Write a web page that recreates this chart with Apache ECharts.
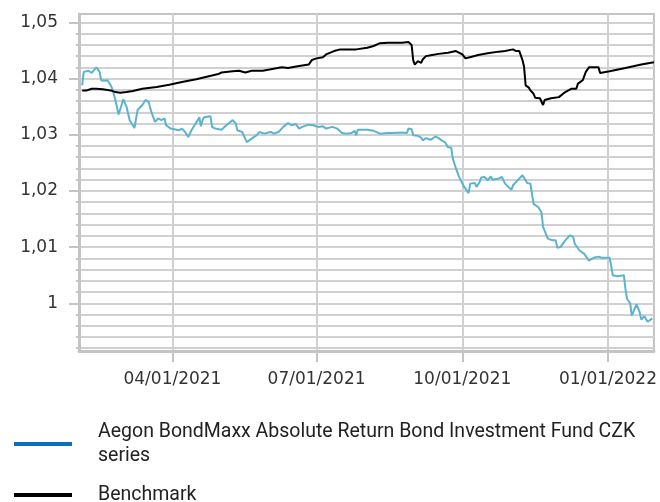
<!DOCTYPE html>
<html><head><meta charset="utf-8">
<script src="https://cdn.jsdelivr.net/npm/echarts@6/dist/echarts.min.js"></script>
<style>html,body{margin:0;padding:0;background:#fff}#c{width:660px;height:502px}</style>
</head><body><div id="c"></div>
<script>
const fundName = 'Aegon BondMaxx Absolute Return Bond Investment Fund CZK series';
const benchName = 'Benchmark';
const fundDates = ['2021-02-03','2021-02-04','2021-02-07','2021-02-09','2021-02-12','2021-02-14','2021-02-15','2021-02-17','2021-02-19','2021-02-21','2021-02-22','2021-02-24','2021-02-26','2021-03-01','2021-03-03','2021-03-05','2021-03-08','2021-03-09','2021-03-10','2021-03-13','2021-03-15','2021-03-17','2021-03-19','2021-03-21','2021-03-23','2021-03-25','2021-03-27','2021-03-28','2021-03-31','2021-04-05','2021-04-07','2021-04-09','2021-04-11','2021-04-13','2021-04-17','2021-04-18','2021-04-19','2021-04-20','2021-04-21','2021-04-25','2021-04-26','2021-04-28','2021-05-02','2021-05-05','2021-05-09','2021-05-11','2021-05-12','2021-05-15','2021-05-18','2021-05-21','2021-05-24','2021-05-26','2021-05-29','2021-06-02','2021-06-04','2021-06-07','2021-06-10','2021-06-13','2021-06-15','2021-06-18','2021-06-20','2021-06-22','2021-06-26','2021-06-29','2021-07-02','2021-07-05','2021-07-07','2021-07-11','2021-07-14','2021-07-17','2021-07-20','2021-07-23','2021-07-25','2021-07-26','2021-07-27','2021-08-02','2021-08-06','2021-08-10','2021-08-15','2021-08-18','2021-08-24','2021-08-27','2021-08-28','2021-08-30','2021-08-31','2021-09-03','2021-09-05','2021-09-06','2021-09-08','2021-09-11','2021-09-14','2021-09-16','2021-09-18','2021-09-20','2021-09-22','2021-09-24','2021-09-25','2021-09-27','2021-09-29','2021-10-02','2021-10-05','2021-10-06','2021-10-09','2021-10-10','2021-10-12','2021-10-13','2021-10-15','2021-10-17','2021-10-19','2021-10-20','2021-10-24','2021-10-26','2021-10-28','2021-11-01','2021-11-02','2021-11-04','2021-11-08','2021-11-09','2021-11-11','2021-11-13','2021-11-14','2021-11-15','2021-11-18','2021-11-20','2021-11-21','2021-11-22','2021-11-24','2021-11-27','2021-11-29','2021-11-30','2021-12-02','2021-12-05','2021-12-08','2021-12-10','2021-12-11','2021-12-14','2021-12-17','2021-12-20','2021-12-23','2021-12-26','2021-12-28','2022-01-02','2022-01-03','2022-01-04','2022-01-07','2022-01-11','2022-01-12','2022-01-13','2022-01-15','2022-01-16','2022-01-17','2022-01-19','2022-01-21','2022-01-22','2022-01-24','2022-01-26','2022-01-29'];
const fundValues = [1.0388,1.0412,1.0414,1.0410,1.0420,1.0412,1.0397,1.0396,1.0397,1.0388,1.0382,1.0362,1.0336,1.0363,1.0350,1.0326,1.0312,1.0315,1.0344,1.0353,1.0362,1.0358,1.0338,1.0323,1.0329,1.0326,1.0329,1.0317,1.0311,1.0308,1.0311,1.0305,1.0296,1.0308,1.0326,1.0331,1.0315,1.0326,1.0331,1.0333,1.0314,1.0311,1.0309,1.0317,1.0326,1.0320,1.0308,1.0305,1.0287,1.0293,1.0299,1.0305,1.0302,1.0305,1.0302,1.0305,1.0314,1.0321,1.0317,1.0319,1.0311,1.0314,1.0318,1.0317,1.0314,1.0315,1.0311,1.0314,1.0311,1.0303,1.0302,1.0303,1.0307,1.0299,1.0309,1.0309,1.0307,1.0302,1.0303,1.0303,1.0304,1.0303,1.0311,1.0310,1.0299,1.0298,1.0295,1.0290,1.0294,1.0291,1.0297,1.0294,1.0290,1.0287,1.0278,1.0277,1.0258,1.0240,1.0225,1.0208,1.0196,1.0213,1.0214,1.0207,1.0216,1.0224,1.0225,1.0219,1.0226,1.0220,1.0222,1.0225,1.0213,1.0202,1.0210,1.0216,1.0228,1.0228,1.0214,1.0213,1.0195,1.0177,1.0171,1.0162,1.0136,1.0133,1.0115,1.0112,1.0112,1.0099,1.0100,1.0112,1.0121,1.0118,1.0106,1.0094,1.0088,1.0076,1.0081,1.0083,1.0081,1.0081,1.0067,1.0050,1.0048,1.0050,1.0026,1.0008,1.0000,0.9978,0.9984,0.9998,0.9984,0.9971,0.9977,0.9967,0.9973];
const benchDates = ['2021-02-03','2021-02-06','2021-02-09','2021-02-12','2021-02-16','2021-02-21','2021-02-24','2021-02-27','2021-03-03','2021-03-07','2021-03-13','2021-03-22','2021-03-30','2021-04-07','2021-04-16','2021-04-22','2021-04-30','2021-05-02','2021-05-09','2021-05-13','2021-05-17','2021-05-21','2021-05-28','2021-06-03','2021-06-09','2021-06-13','2021-06-19','2021-06-26','2021-06-28','2021-07-01','2021-07-05','2021-07-07','2021-07-12','2021-07-16','2021-07-20','2021-07-26','2021-08-02','2021-08-06','2021-08-10','2021-08-15','2021-08-20','2021-08-24','2021-08-28','2021-08-30','2021-08-31','2021-09-01','2021-09-03','2021-09-05','2021-09-06','2021-09-08','2021-09-12','2021-09-16','2021-09-22','2021-09-27','2021-10-01','2021-10-03','2021-10-07','2021-10-11','2021-10-17','2021-10-24','2021-10-28','2021-11-02','2021-11-04','2021-11-06','2021-11-08','2021-11-09','2021-11-10','2021-11-12','2021-11-13','2021-11-15','2021-11-16','2021-11-19','2021-11-21','2021-11-22','2021-11-26','2021-12-01','2021-12-05','2021-12-09','2021-12-12','2021-12-13','2021-12-16','2021-12-18','2021-12-20','2021-12-22','2021-12-26','2021-12-27','2022-01-02','2022-01-12','2022-01-22','2022-01-30'];
const benchValues = [1.0379,1.0379,1.0382,1.0382,1.0381,1.0379,1.0376,1.0375,1.0376,1.0378,1.0382,1.0385,1.0389,1.0394,1.0399,1.0403,1.0408,1.0411,1.0413,1.0414,1.0411,1.0414,1.0414,1.0417,1.0420,1.0419,1.0422,1.0425,1.0433,1.0436,1.0438,1.0443,1.0449,1.0452,1.0452,1.0452,1.0455,1.0458,1.0463,1.0464,1.0464,1.0464,1.0465,1.0460,1.0433,1.0425,1.0431,1.0428,1.0434,1.0440,1.0442,1.0444,1.0446,1.0449,1.0443,1.0436,1.0439,1.0442,1.0445,1.0448,1.0449,1.0452,1.0449,1.0449,1.0433,1.0421,1.0388,1.0384,1.0379,1.0373,1.0366,1.0365,1.0353,1.0362,1.0365,1.0367,1.0376,1.0382,1.0382,1.0391,1.0397,1.0412,1.0420,1.0420,1.0420,1.0410,1.0413,1.0419,1.0425,1.0429];
const xTickDates = ['2021-04-01','2021-07-01','2021-10-01','2022-01-01'];
const yMajorTicks = [1.00,1.01,1.02,1.03,1.04,1.05];
const yMinorTicks = [0.992,0.994,0.996,0.998,1.000,1.002,1.004,1.006,1.008,1.010,1.012,1.014,1.016,1.018,1.020,1.022,1.024,1.026,1.028,1.030,1.032,1.034,1.036,1.038,1.040,1.042,1.044,1.046,1.048,1.050];

const ts = d => Date.UTC(+d.slice(0,4), +d.slice(5,7) - 1, +d.slice(8,10));
const pad = n => (n < 10 ? '0' : '') + n;
const fundData = fundDates.map((d,i) => [ts(d), fundValues[i]]);
const benchData = benchDates.map((d,i) => [ts(d), benchValues[i]]);
const xTicks = xTickDates.map(ts);
const gridColor = '#d0d0d0';
const axisColor = '#c4c4c4';
const labelFont = 'DejaVu Sans';
const legendText = {fontFamily: 'Roboto, sans-serif', fontSize: 19.5, color: '#222', width: 560, overflow: 'break', padding: [0,0,0,21]};

const chart = echarts.init(document.getElementById('c'), null, {renderer:'canvas'});
chart.setOption({
  animation: false,
  grid: {left: 79, right: 2, top: 14, bottom: 151, show: true, borderColor: axisColor, borderWidth: 2, containLabel: false},
  xAxis: {
    type: 'value', min: ts('2021-02-01'), max: ts('2022-01-30'), scale: true,
    axisLine: {show: true, lineStyle: {color: axisColor, width: 3}},
    axisTick: {show: true, customValues: xTicks, length: 11, lineStyle: {color: axisColor, width: 2}},
    axisLabel: {show: true, customValues: xTicks, margin: 20, color: '#333', fontFamily: labelFont, fontSize: 17,
      formatter: v => { const d = new Date(v); return pad(d.getUTCMonth()+1) + '/' + pad(d.getUTCDate()) + '/' + d.getUTCFullYear(); }},
    splitLine: {show: true, lineStyle: {color: gridColor, width: 2}}
  },
  yAxis: [{
    type: 'value', min: 0.9915, max: 1.0515,
    axisLine: {show: true, lineStyle: {color: axisColor, width: 3}},
    axisTick: {show: true, customValues: yMinorTicks, length: 3, lineStyle: {color: axisColor, width: 2}},
    axisLabel: {show: false},
    splitLine: {show: true, lineStyle: {color: gridColor, width: 2}}
  }, {
    type: 'value', min: 0.9915, max: 1.0515, position: 'left',
    axisLine: {show: false},
    axisTick: {show: true, customValues: yMajorTicks, length: 10, lineStyle: {color: axisColor, width: 2}},
    axisLabel: {show: true, customValues: yMajorTicks, margin: 21, color: '#333', fontFamily: labelFont, fontSize: 17,
      formatter: v => String(+v.toFixed(2)).replace('.', ',')},
    splitLine: {show: false}
  }],
  legend: [{
    orient: 'vertical', left: 9, top: 415, itemWidth: 58, itemHeight: 4, icon: 'rect',
    textStyle: Object.assign({lineHeight: 24}, legendText),
    data: [{name: fundName, itemStyle: {color: '#0a70bd'}}]
  }, {
    orient: 'vertical', left: 9, top: 480, itemWidth: 58, itemHeight: 4, icon: 'rect',
    textStyle: Object.assign({lineHeight: 20}, legendText),
    data: [{name: benchName, itemStyle: {color: '#000'}}]
  }],
  series: [
    {name: fundName, type: 'line', data: fundData, showSymbol: false, symbol: 'none', lineStyle: {color: '#5ab4cf', width: 2}, itemStyle: {color: '#5ab4cf'}, z: 3},
    {name: benchName, type: 'line', data: benchData, showSymbol: false, symbol: 'none', lineStyle: {color: '#000', width: 2}, itemStyle: {color: '#000'}, z: 4}
  ]
});
</script></body></html>
